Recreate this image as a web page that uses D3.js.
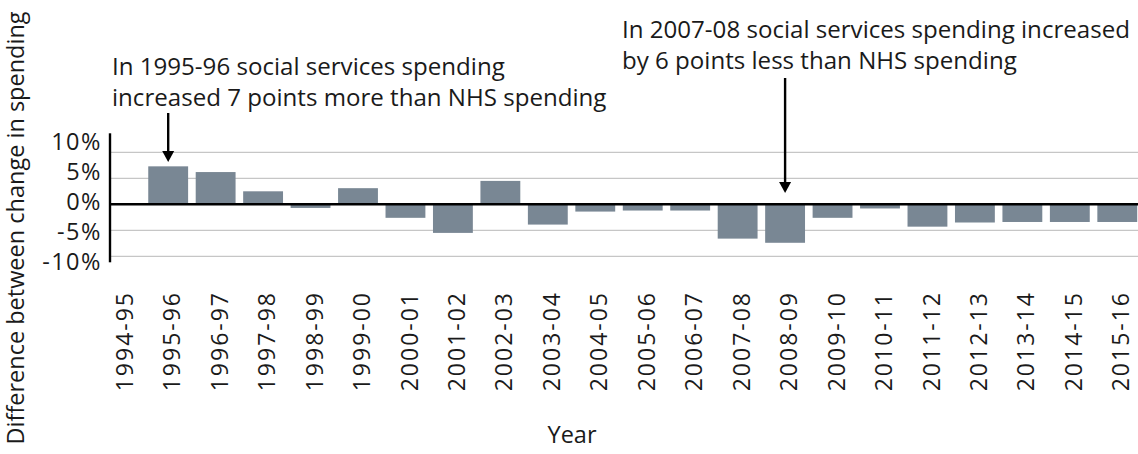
<!DOCTYPE html>
<html>
<head>
<meta charset="utf-8">
<script src="https://cdn.jsdelivr.net/npm/d3@7"></script>
<style>
  body { margin: 0; background: #fff; }
  text { font-family: "Open Sans", sans-serif; fill: #1a1a1a; }
</style>
</head>
<body>
<div id="chart"></div>
<script>
var svgWidth = 1138;
var svgHeight = 454;

// data
var years = ["1994-95", "1995-96", "1996-97", "1997-98", "1998-99", "1999-00", "2000-01",
    "2001-02", "2002-03", "2003-04", "2004-05", "2005-06", "2006-07", "2007-08", "2008-09",
    "2009-10", "2010-11", "2011-12", "2012-13", "2013-14", "2014-15", "2015-16"];
var difference = [0, 7.3, 6.2, 2.5, -0.7, 3.1, -2.6, -5.5, 4.5, -3.9, -1.4, -1.2, -1.2,
    -6.6, -7.4, -2.6, -0.8, -4.3, -3.5, -3.4, -3.4, -3.4];
var yTicks = [-10, -5, 0, 5, 10];
var noteYears = ["1995-96", "2008-09"];
var noteLines = [
    ["In 1995-96 social services spending", "increased 7 points more than NHS spending"],
    ["In 2007-08 social services spending increased", "by 6 points less than NHS spending"]
];

var svg = d3.select("#chart").append("svg")
    .attr("width", svgWidth)
    .attr("height", svgHeight);

var x = d3.scaleBand()
    .domain(years)
    .range([97, 1141])
    .paddingInner(0.16)
    .paddingOuter(0.08);

var y = d3.scaleLinear()
    .domain([-10, 10])
    .range([256.3, 152.3]);

// tick labels in the source sit a bit wider apart than the gridlines
var yLabel = d3.scaleLinear()
    .domain([-10, 10])
    .range([261.5, 141.5]);

var axisX = 110;

// gridlines
svg.append("g").selectAll("line")
    .data(yTicks.filter(d => d !== 0))
    .enter().append("line")
    .attr("x1", axisX).attr("x2", svgWidth)
    .attr("y1", d => y(d)).attr("y2", d => y(d))
    .attr("stroke", "#c6c6c6")
    .attr("stroke-width", 1.3);

// bars
svg.append("g").selectAll("rect")
    .data(difference)
    .enter().append("rect")
    .attr("x", (d, i) => x(years[i]))
    .attr("width", x.bandwidth())
    .attr("y", d => d >= 0 ? y(d) : y(0))
    .attr("height", d => Math.abs(y(d) - y(0)))
    .attr("fill", "#798794");

// zero line
svg.append("line")
    .attr("x1", axisX).attr("x2", svgWidth)
    .attr("y1", y(0)).attr("y2", y(0))
    .attr("stroke", "#000")
    .attr("stroke-width", 2.4);

// y axis line
svg.append("line")
    .attr("x1", axisX).attr("x2", axisX)
    .attr("y1", y(10) - 19).attr("y2", y(-10) + 6)
    .attr("stroke", "#000")
    .attr("stroke-width", 2.4);

// y tick labels
svg.append("g").selectAll("text")
    .data(yTicks)
    .enter().append("text")
    .attr("x", 102)
    .attr("y", d => yLabel(d))
    .attr("dy", "0.35em")
    .attr("text-anchor", "end")
    .attr("font-size", "23.5px")
    .attr("letter-spacing", "1.5px")
    .text(d => d + "%");

// x tick labels
svg.append("g").selectAll("text")
    .data(years)
    .enter().append("text")
    .attr("transform", d => `translate(${x(d) + x.bandwidth() / 2 + 4}, 291) rotate(-90)`)
    .attr("dy", "0.35em")
    .attr("text-anchor", "end")
    .attr("font-size", "23px")
    .attr("letter-spacing", "2px")
    .text(d => d);

// axis titles
svg.append("text")
    .attr("x", 572).attr("y", 443)
    .attr("text-anchor", "middle")
    .attr("font-size", "23.5px")
    .text("Year");

svg.append("text")
    .attr("transform", "translate(24, 228) rotate(-90)")
    .attr("text-anchor", "middle")
    .attr("font-size", "23.5px")
    .text("Difference between change in spending");

// annotations
var noteText = [[112, 75], [622, 38]];
var arrowTop = [113, 78];
var arrowTip = [162, 193];

noteLines.forEach(function(lines, k) {
    var t = svg.append("text")
        .attr("x", noteText[k][0])
        .attr("y", noteText[k][1])
        .attr("font-size", "24.1px");
    lines.forEach(function(line, j) {
        t.append("tspan")
            .attr("x", noteText[k][0])
            .attr("dy", j === 0 ? 0 : 31)
            .text(line);
    });

    var cx = x(noteYears[k]) + x.bandwidth() / 2;
    svg.append("line")
        .attr("x1", cx).attr("x2", cx)
        .attr("y1", arrowTop[k]).attr("y2", arrowTip[k] - 8)
        .attr("stroke", "#000")
        .attr("stroke-width", 2.4);
    svg.append("path")
        .attr("d", `M${cx - 6},${arrowTip[k] - 11} L${cx + 6},${arrowTip[k] - 11} L${cx},${arrowTip[k]} Z`)
        .attr("fill", "#000");
});
</script>
</body>
</html>
